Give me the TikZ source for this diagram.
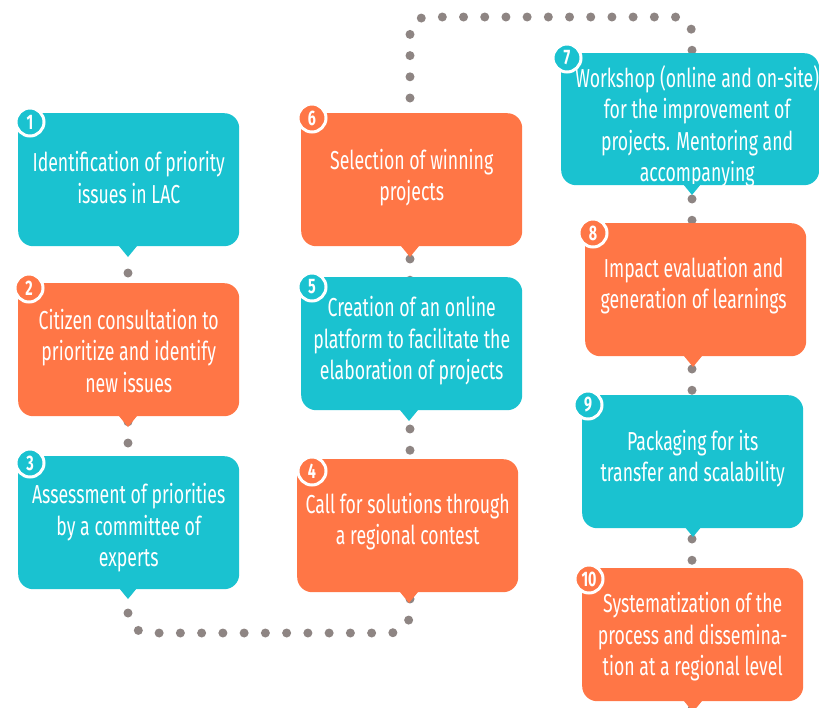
\documentclass[tikz,border=0pt]{standalone}
\usepackage{fontspec}
\setmainfont{Fira Sans}[FakeStretch=0.68]
\newcommand{\boxfont}{\fontsize{26pt}{31.5pt}\selectfont}
\newcommand{\numfont}{\fontsize{21pt}{21pt}\selectfont\bfseries}
\definecolor{tealc}{HTML}{1AC2D0}
\definecolor{orangec}{HTML}{FF7646}
\definecolor{dotgray}{HTML}{8E8583}
\tikzset{
  stepbox/.style={rounded corners=15pt, minimum width=221pt, minimum height=133pt,
    inner sep=0pt, anchor=north west},
  steptext/.style={inner sep=0pt, text=white, align=center, font=\boxfont},
  numc/.style={circle, draw=white, line width=3pt, minimum size=28pt, inner sep=0pt,
    text=white, font=\numfont},
  dotline/.style={draw=dotgray, line width=9pt, line cap=round},
}
\begin{document}
\begin{tikzpicture}[x=1pt,y=-1pt]
\useasboundingbox (0,0) rectangle (819,707);
% connector waypoints
\coordinate (t1) at (128,257);
\coordinate (t7) at (692,195);
\coordinate (top6) at (410,113);
\coordinate (top7) at (692,53);
\coordinate (bl) at (128,633);
\coordinate (br) at (410,633);
\coordinate (tl) at (410,17);
\coordinate (tr) at (692,17);
\coordinate (end) at (692,712);
% dotted connectors (behind boxes)
\draw[dotline, rounded corners=20pt, dash pattern=on 0pt off 21.25pt, dash phase=5.25pt]
  (t1) -- (bl) -- (br) -- (top6);
\draw[dotline, rounded corners=17pt, dash pattern=on 0pt off 21.2pt, dash phase=6.2pt]
  (top6) -- (tl) -- (tr) -- (top7);
\draw[dotline, dash pattern=on 0pt off 21.25pt, dash phase=17.25pt]
  (t7) -- (end);
% boxes
\node[stepbox, fill=tealc]   (b1) at (18,113) {};
\node[stepbox, fill=orangec] (b2) at (18,283) {};
\node[stepbox, fill=tealc]   (b3) at (18,456) {};
\node[stepbox, fill=orangec] (b4) at (297,459) {};
\node[stepbox, fill=tealc]   (b5) at (301,277) {};
\node[stepbox, fill=orangec] (b6) at (301,113) {};
\node[stepbox, fill=tealc, minimum width=258pt, minimum height=132pt] (b7) at (561,53) {};
\node[stepbox, fill=orangec] (b8) at (585,223) {};
\node[stepbox, fill=tealc]   (b9) at (582,395) {};
\node[stepbox, fill=orangec] (b10) at (582,568) {};
% texts
\node[steptext] (x1) at ([yshift=2pt]b1.center) {Identification of priority\\issues in LAC};
\node[steptext] (x2) at ([yshift=-1pt]b2.center) {Citizen consultation to\\prioritize and identify\\new issues};
\node[steptext] (x3) at ([yshift=-5pt]b3.center) {Assessment of priorities\\by a committee of\\experts};
\node[steptext] (x4) at ([yshift=4pt]b4.center) {Call for solutions through\\a regional contest};
\node[steptext] (x5) at ([yshift=3pt]b5.center) {Creation of an online\\platform to facilitate the\\elaboration of projects};
\node[steptext] (x6) at ([yshift=2pt]b6.center) {Selection of winning\\projects};
\node[steptext] (x7) at ([xshift=7pt,yshift=-7pt]b7.center) {Workshop (online and on-site)\\for the improvement of\\projects. Mentoring and\\accompanying};
\node[steptext] (x8) at ([xshift=-2pt,yshift=4pt]b8.center) {Impact evaluation and\\generation of learnings};
\node[steptext] (x9) at ([yshift=3pt]b9.center) {Packaging for its\\transfer and scalability};
\node[steptext] (x10) at ([yshift=-2pt]b10.center) {Systematization of the\\process and dissemina-\\tion at a regional level};
% tails
\fill[tealc]   (t1) -- ++(-9,-11) -- ++(18,0) -- cycle;
\fill[orangec] (128,427) -- ++(-9,-11) -- ++(18,0) -- cycle;
\fill[tealc]   (128,599) -- ++(-9,-11) -- ++(18,0) -- cycle;
\fill[orangec] (409,603) -- ++(-9,-11) -- ++(18,0) -- cycle;
\fill[tealc]   (409,421) -- ++(-9,-11) -- ++(18,0) -- cycle;
\fill[orangec] (410,257) -- ++(-9,-11) -- ++(18,0) -- cycle;
\fill[tealc]   (t7) -- ++(-9,-11) -- ++(18,0) -- cycle;
\fill[orangec] (693,367) -- ++(-9,-11) -- ++(18,0) -- cycle;
\fill[tealc]   (693,537) -- ++(-9,-11) -- ++(18,0) -- cycle;
\fill[orangec] (693,712) -- ++(-9,-11) -- ++(18,0) -- cycle;
% number badges
\node[numc, fill=tealc]   (n1) at (30,122) {1};
\node[numc, fill=orangec] (n2) at (29,288) {2};
\node[numc, fill=tealc]   (n3) at (30,463) {3};
\node[numc, fill=orangec] (n4) at (312,471) {4};
\node[numc, fill=tealc]   (n5) at (312,287) {5};
\node[numc, fill=orangec] (n6) at (312,118) {6};
\node[numc, fill=tealc]   (n7) at (567,58) {7};
\node[numc, fill=orangec] (n8) at (593,233) {8};
\node[numc, fill=tealc]   (n9) at (588,405) {9};
\node[numc, fill=orangec] (n10) at (589,579) {10};
\end{tikzpicture}
\end{document}
